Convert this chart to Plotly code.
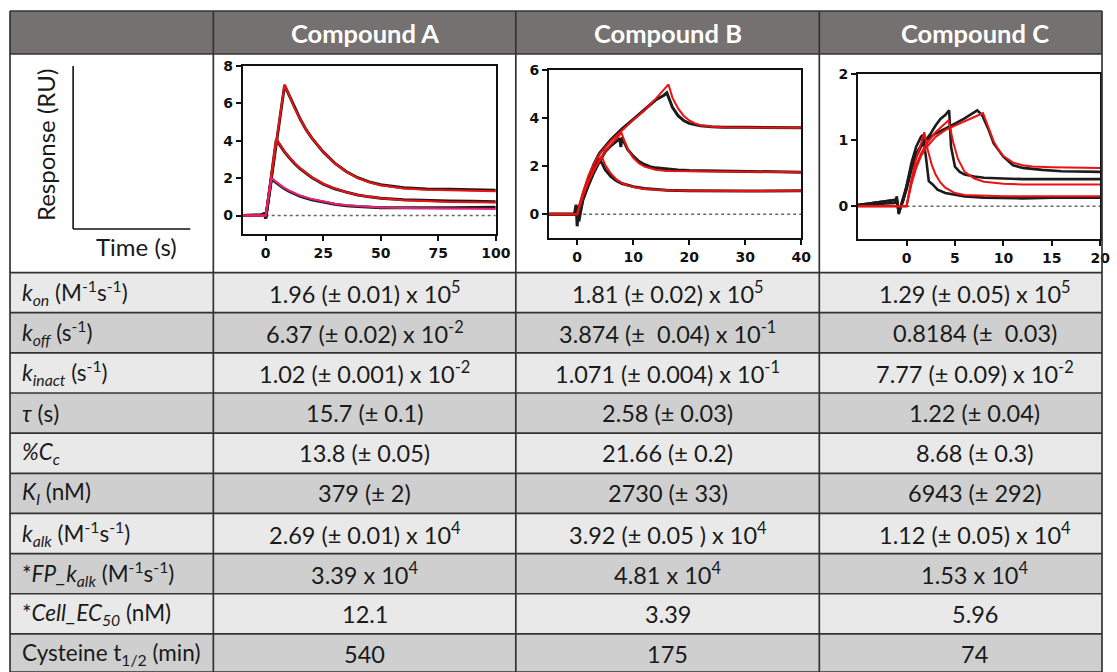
import plotly.graph_objects as go

# ---------------- data ----------------
compounds = ["Compound A", "Compound B", "Compound C"]

row_labels = [
    "<i>k</i><sub><i>on</i></sub> (M<sup>-1</sup>s<sup>-1</sup>)",
    "<i>k</i><sub><i>off</i></sub> (s<sup>-1</sup>)",
    "<i>k</i><sub><i>inact</i></sub> (s<sup>-1</sup>)",
    "<i>τ</i> (s)",
    "<i>%C</i><sub><i>c</i></sub>",
    "<i>K</i><sub><i>I</i></sub> (nM)",
    "<i>k</i><sub><i>alk</i></sub> (M<sup>-1</sup>s<sup>-1</sup>)",
    "*<i>FP_k</i><sub><i>alk</i></sub> (M<sup>-1</sup>s<sup>-1</sup>)",
    "*<i>Cell_EC</i><sub><i>50</i></sub> (nM)",
    "Cysteine t<sub>1/2</sub> (min)",
]
values_A = ["1.96 (± 0.01) x 10<sup>5</sup>", "6.37 (± 0.02) x 10<sup>-2</sup>", "1.02 (± 0.001) x 10<sup>-2</sup>",
            "15.7 (± 0.1)", "13.8 (± 0.05)", "379 (± 2)", "2.69 (± 0.01) x 10<sup>4</sup>",
            "3.39 x 10<sup>4</sup>", "12.1", "540"]
values_B = ["1.81 (± 0.02) x 10<sup>5</sup>", "3.874 (±  0.04) x 10<sup>-1</sup>", "1.071 (± 0.004) x 10<sup>-1</sup>",
            "2.58 (± 0.03)", "21.66 (± 0.2)", "2730 (± 33)", "3.92 (± 0.05 ) x 10<sup>4</sup>",
            "4.81 x 10<sup>4</sup>", "3.39", "175"]
values_C = ["1.29 (± 0.05) x 10<sup>5</sup>", "0.8184 (±  0.03)", "7.77 (± 0.09) x 10<sup>-2</sup>",
            "1.22 (± 0.04)", "8.68 (± 0.3)", "6943 (± 292)", "1.12 (± 0.05) x 10<sup>4</sup>",
            "1.53 x 10<sup>4</sup>", "5.96", "74"]

# Sensorgram curves (time s, response RU)
# Compound A
A_fit1_x = [-10, -5, 0, 8.2, 10, 12.5, 15, 17.5, 20, 25, 30, 35, 40, 45, 50, 60, 70, 80, 90, 100]
A_fit1_y = [0, 0, 0, 7.0, 6.45, 5.75, 5.15, 4.6, 4.15, 3.4, 2.8, 2.35, 2.0, 1.78, 1.62, 1.45, 1.38, 1.35, 1.33, 1.3]
A_fit2_x = [-10, -5, 0, 4.6, 6, 8, 10, 12.5, 15, 17.5, 20, 25, 30, 35, 40, 45, 50, 60, 70, 80, 90, 100]
A_fit2_y = [0, 0, 0, 4.1, 3.8, 3.45, 3.15, 2.8, 2.52, 2.27, 2.05, 1.7, 1.45, 1.25, 1.1, 1.0, 0.92, 0.82, 0.76, 0.73, 0.71, 0.7]
A_fit3_x = [-10, -5, 0, 2.5, 5, 7.5, 10, 12.5, 15, 20, 25, 30, 35, 40, 50, 60, 70, 80, 90, 100]
A_fit3_y = [0, 0, 0, 2.0, 1.74, 1.52, 1.35, 1.2, 1.07, 0.88, 0.74, 0.63, 0.55, 0.5, 0.43, 0.4, 0.38, 0.37, 0.36, 0.35]
A_dat1_x = [-10, -2, -0.5, 0, 8.2, 10, 12.5, 15, 17.5, 20, 25, 30, 35, 40, 45, 50, 60, 70, 80, 90, 100]
A_dat1_y = [0, 0.03, 0.1, -0.15, 6.95, 6.45, 5.75, 5.15, 4.6, 4.15, 3.4, 2.8, 2.35, 2.02, 1.8, 1.65, 1.48, 1.42, 1.4, 1.38, 1.35]
A_dat2_x = [-10, -2, -0.5, 0, 4.6, 6, 8, 10, 12.5, 15, 17.5, 20, 25, 30, 35, 40, 45, 50, 60, 70, 80, 90, 100]
A_dat2_y = [0, 0.03, 0.1, -0.15, 4.05, 3.78, 3.43, 3.13, 2.78, 2.5, 2.25, 2.03, 1.68, 1.43, 1.25, 1.1, 1.0, 0.93, 0.84, 0.8, 0.78, 0.76, 0.74]
A_dat3_x = [-10, -2, -0.5, 0, 2.5, 5, 7.5, 10, 12.5, 15, 20, 25, 30, 35, 40, 50, 60, 70, 80, 90, 100]
A_dat3_y = [0, 0.03, 0.1, -0.15, 1.95, 1.7, 1.48, 1.3, 1.15, 1.03, 0.84, 0.7, 0.6, 0.53, 0.48, 0.42, 0.41, 0.4, 0.42, 0.43, 0.45]

# Compound B
B_fit1_x = [-5, 0, 1, 2, 3, 4, 6, 8, 10, 12, 14, 16.3, 17, 18, 19, 20, 21, 22, 24, 26, 30, 35, 40]
B_fit1_y = [0, 0, 0.9, 1.6, 2.1, 2.5, 3.05, 3.5, 3.92, 4.32, 4.8, 5.4, 4.85, 4.4, 4.1, 3.9, 3.78, 3.7, 3.64, 3.62, 3.6, 3.6, 3.6]
B_fit2_x = [-5, 0, 1, 2, 3, 4, 5, 6, 7, 7.9, 8.5, 9, 10, 11, 12, 13, 14, 16, 18, 20, 25, 30, 40]
B_fit2_y = [0, 0, 0.75, 1.35, 1.85, 2.25, 2.6, 2.9, 3.15, 3.39, 3.0, 2.7, 2.35, 2.12, 1.98, 1.9, 1.85, 1.8, 1.79, 1.78, 1.78, 1.77, 1.75]
B_fit3_x = [-5, 0, 1, 2, 3, 4.36, 5, 6, 7, 8, 9, 10, 12, 14, 16, 20, 25, 30, 40]
B_fit3_y = [0, 0, 0.75, 1.35, 1.85, 2.42, 2.05, 1.7, 1.45, 1.3, 1.2, 1.13, 1.05, 1.02, 1.0, 0.98, 0.97, 0.97, 0.98]
B_dat1_x = [-5, -0.5, -0.2, 0, 0.2, 1, 2, 3, 4, 6, 8, 10, 12, 14, 15.5, 16, 16.5, 17, 18, 19, 20, 22, 24, 26, 30, 35, 40]
B_dat1_y = [0, 0, 0.4, -0.5, 0.2, 0.8, 1.5, 2.1, 2.55, 3.1, 3.55, 3.95, 4.35, 4.75, 4.95, 5.05, 4.75, 4.45, 4.1, 3.9, 3.78, 3.68, 3.64, 3.62, 3.62, 3.6, 3.6]
B_dat2_x = [-5, 0, 0.3, 1, 2, 3, 4, 5, 6, 7, 7.6, 7.8, 8, 8.5, 9, 10, 11, 12, 13, 14, 16, 18, 20, 25, 30, 40]
B_dat2_y = [0, 0, -0.3, 0.6, 1.2, 1.75, 2.2, 2.6, 2.85, 3.05, 3.15, 2.8, 3.2, 2.95, 2.7, 2.42, 2.2, 2.07, 1.98, 1.93, 1.88, 1.84, 1.82, 1.8, 1.78, 1.75]
B_dat3_x = [-5, 0, 0.5, 1, 2, 3, 3.8, 4.5, 5, 6, 7, 8, 10, 12, 14, 16, 20, 25, 30, 40]
B_dat3_y = [0, 0, 0.1, 0.6, 1.3, 1.9, 2.3, 2.1, 1.85, 1.58, 1.4, 1.28, 1.15, 1.07, 1.03, 1.0, 0.98, 0.97, 0.97, 0.98]

# Compound C
C_fit1_x = [-5, 0, 0.5, 1, 1.5, 1.83, 2.2, 2.6, 3, 3.5, 4, 5, 6, 8, 10, 15, 20]
C_fit1_y = [0, 0, 0.4, 0.72, 0.95, 1.12, 0.85, 0.63, 0.48, 0.36, 0.28, 0.2, 0.17, 0.155, 0.15, 0.15, 0.15]
C_fit2_x = [-5, 0, 0.5, 1, 1.5, 2, 3, 4.34, 4.8, 5.3, 6, 7, 8, 9, 10, 12, 15, 20]
C_fit2_y = [0, 0, 0.35, 0.62, 0.8, 0.93, 1.12, 1.3, 0.98, 0.72, 0.52, 0.42, 0.37, 0.35, 0.34, 0.33, 0.33, 0.33]
C_fit3_x = [-5, 0, 0.5, 1, 1.5, 2, 3, 4, 5, 6, 7, 7.9, 8.4, 9, 9.5, 10, 11, 12, 13, 15, 20]
C_fit3_y = [0, 0, 0.33, 0.58, 0.76, 0.88, 1.05, 1.15, 1.22, 1.29, 1.35, 1.41, 1.2, 0.98, 0.85, 0.76, 0.66, 0.62, 0.6, 0.59, 0.58]
C_dat1_x = [-5, -3, -1.2, -1, -0.8, -0.5, 0, 0.5, 1, 1.5, 1.7, 2.0, 2.3, 2.7, 3.2, 4, 5, 6, 8, 10, 12, 15, 20]
C_dat1_y = [0.02, 0.03, 0.05, 0.15, -0.12, 0.05, 0.3, 0.65, 0.9, 1.05, 1.08, 0.75, 0.38, 0.33, 0.25, 0.2, 0.17, 0.15, 0.13, 0.12, 0.12, 0.13, 0.13]
C_dat2_x = [-5, -1, -0.8, -0.3, 0, 0.5, 1, 1.5, 2, 2.5, 3, 3.5, 4, 4.4, 4.6, 5, 5.5, 6, 7, 8, 10, 12, 15, 20]
C_dat2_y = [0.02, 0.1, -0.1, 0.1, 0.3, 0.6, 0.8, 0.92, 1.0, 1.1, 1.22, 1.32, 1.38, 1.45, 0.9, 0.6, 0.52, 0.48, 0.45, 0.43, 0.42, 0.41, 0.41, 0.41]
C_dat3_x = [-5, -1, -0.8, -0.3, 0, 0.5, 1, 1.5, 2, 3, 4, 5, 6, 7, 7.3, 7.8, 8.5, 9, 10, 11, 12, 14, 16, 20]
C_dat3_y = [0.02, 0.1, -0.1, 0.1, 0.25, 0.55, 0.75, 0.9, 1.0, 1.1, 1.17, 1.25, 1.33, 1.42, 1.45, 1.38, 1.15, 0.95, 0.75, 0.62, 0.58, 0.55, 0.53, 0.52]

A_xticks = [0, 25, 50, 75, 100]
A_yticks = [0, 2, 4, 6, 8]
B_xticks = [0, 10, 20, 30, 40]
B_yticks = [0, 2, 4, 6]
C_xticks = [0, 5, 10, 15, 20]
C_yticks = [0, 1, 2]
A_xrange, A_yrange = [-10, 100], [-1, 8]
B_xrange, B_yrange = [-5, 40], [-1, 6]
C_xrange, C_yrange = [-5, 20], [-0.5, 2]

# ---------------- layout helpers ----------------
W, H = 1117, 672
# the photographed page shows the figure slightly scaled and shifted; positions below are
# given in picture pixels and mapped back to figure pixels
SX, SY, OY = 0.985, 0.988, 8.0
def px(x):
    return min(max(x / SX, 0), W) / W
def py(y):
    return 1 - min(max((y - OY) / SY, 0), H) / H

TXT_FONT = "Lato"
HEADER_BG = "#767171"
LIGHT = "#e9e9e9"
DARK = "#cfcfcf"
LINE = "#333333"
TXT_COL = "#1a1a1a"

col_edges = [10, 213, 515, 818, 1128]
header_top, header_bot = 11, 54
plot_bot = 272.5
row_h = 40.15
row_edges = [plot_bot + i * row_h for i in range(len(row_labels) + 1)]

fig = go.Figure()
shapes = []
annotations = []

shapes.append(dict(type="rect", xref="paper", yref="paper", layer="below",
                   x0=px(col_edges[0]), x1=px(col_edges[-1]), y0=py(header_bot), y1=py(header_top),
                   fillcolor=HEADER_BG, line_width=0))
for i in range(len(row_labels)):
    shapes.append(dict(type="rect", xref="paper", yref="paper", layer="below",
                       x0=px(col_edges[0]), x1=px(col_edges[-1]),
                       y0=py(row_edges[i + 1]), y1=py(row_edges[i]),
                       fillcolor=LIGHT if i % 2 == 0 else DARK, line_width=0))
for yv in [header_top, header_bot, plot_bot] + row_edges[1:]:
    shapes.append(dict(type="line", xref="paper", yref="paper", layer="above",
                       x0=px(col_edges[0]), x1=px(col_edges[-1]), y0=py(yv), y1=py(yv),
                       line=dict(color=LINE, width=1.7)))
for xv in col_edges:
    shapes.append(dict(type="line", xref="paper", yref="paper", layer="above",
                       x0=px(xv), x1=px(xv), y0=py(row_edges[-1]), y1=py(header_top),
                       line=dict(color=LINE, width=1.7)))

# schematic axes in the first cell
shapes.append(dict(type="line", xref="paper", yref="paper",
                   x0=px(73), x1=px(73), y0=py(229), y1=py(66), line=dict(color="#111111", width=1.6)))
shapes.append(dict(type="line", xref="paper", yref="paper",
                   x0=px(73), x1=px(190), y0=py(229), y1=py(229), line=dict(color="#111111", width=1.6)))
annotations.append(dict(xref="paper", yref="paper", x=px(45), y=py(145), text="Response (RU)",
                        textangle=-90, showarrow=False, xanchor="center", yanchor="middle",
                        font=dict(family=TXT_FONT, size=24, color=TXT_COL)))
annotations.append(dict(xref="paper", yref="paper", x=px(136), y=py(246), text="Time (s)",
                        showarrow=False, xanchor="center", yanchor="middle",
                        font=dict(family=TXT_FONT, size=24, color=TXT_COL)))

for j, name in enumerate(compounds):
    cx = (col_edges[j + 1] + col_edges[j + 2]) / 2
    if j == 2:
        cx = 973
    annotations.append(dict(xref="paper", yref="paper", x=px(cx), y=py((header_top + header_bot) / 2),
                            text="<b>" + name + "</b>", showarrow=False, xanchor="center", yanchor="middle",
                            font=dict(family=TXT_FONT, size=25.5, color="white")))

for i, lab in enumerate(row_labels):
    yc = (row_edges[i] + row_edges[i + 1]) / 2
    annotations.append(dict(xref="paper", yref="paper", x=px(20), y=py(yc), text=lab,
                            showarrow=False, xanchor="left", yanchor="middle",
                            font=dict(family=TXT_FONT, size=22.5, color=TXT_COL)))
    for j, vals in enumerate([values_A, values_B, values_C]):
        cx = (col_edges[j + 1] + col_edges[j + 2]) / 2
        annotations.append(dict(xref="paper", yref="paper", x=px(cx), y=py(yc), text=vals[i],
                                showarrow=False, xanchor="center", yanchor="middle",
                                font=dict(family=TXT_FONT, size=23.5, color=TXT_COL)))

panels = [
    dict(xa="x", ya="y", dom_x=(242.3, 495), dom_y=(65.7, 234.3), xr=A_xrange, yr=A_yrange,
         xt=A_xticks, yt=A_yticks,
         data=[(A_dat1_x, A_dat1_y), (A_dat2_x, A_dat2_y), (A_dat3_x, A_dat3_y)],
         fits=[(A_fit1_x, A_fit1_y, "#ee1111"), (A_fit2_x, A_fit2_y, "#ee1111"), (A_fit3_x, A_fit3_y, "#e8207a")]),
    dict(xa="x2", ya="y2", dom_x=(548.3, 800), dom_y=(70, 238.3), xr=B_xrange, yr=B_yrange,
         xt=B_xticks, yt=B_yticks,
         data=[(B_dat1_x, B_dat1_y), (B_dat2_x, B_dat2_y), (B_dat3_x, B_dat3_y)],
         fits=[(B_fit1_x, B_fit1_y, "#ee1111"), (B_fit2_x, B_fit2_y, "#ee1111"), (B_fit3_x, B_fit3_y, "#ee1111")]),
    dict(xa="x3", ya="y3", dom_x=(856.7, 1098.5), dom_y=(74, 239.3), xr=C_xrange, yr=C_yrange,
         xt=C_xticks, yt=C_yticks,
         data=[(C_dat1_x, C_dat1_y), (C_dat2_x, C_dat2_y), (C_dat3_x, C_dat3_y)],
         fits=[(C_fit1_x, C_fit1_y, "#ee1111"), (C_fit2_x, C_fit2_y, "#ee1111"), (C_fit3_x, C_fit3_y, "#ee1111")]),
]

tickfont = dict(family="DejaVu Sans", size=14, color="#111111", weight="bold")
for k, p in enumerate(panels):
    fig.add_trace(go.Scatter(x=[0, p["xr"][1]], y=[0, 0], mode="lines", xaxis=p["xa"], yaxis=p["ya"],
                             line=dict(color="#666666", width=1.5, dash="dot"), showlegend=False, hoverinfo="skip"))
    dw = 3.0 if k < 2 else 2.6
    for (xs, ys) in p["data"]:
        fig.add_trace(go.Scatter(x=xs, y=ys, mode="lines", xaxis=p["xa"], yaxis=p["ya"],
                                 line=dict(color="#1c1c1c", width=dw), showlegend=False))
    for (xs, ys, col) in p["fits"]:
        fig.add_trace(go.Scatter(x=xs, y=ys, mode="lines", xaxis=p["xa"], yaxis=p["ya"],
                                 line=dict(color=col, width=2), showlegend=False))
    suffix = "" if k == 0 else str(k + 1)
    axis_common = dict(showline=True, linecolor="#111111", linewidth=2, mirror=True,
                       ticks="outside", ticklen=5, tickwidth=2, tickcolor="#111111",
                       showgrid=False, zeroline=False, tickfont=tickfont, fixedrange=True)
    fig.update_layout(**{
        "xaxis" + suffix: dict(domain=[px(p["dom_x"][0]), px(p["dom_x"][1])], range=p["xr"],
                               tickvals=p["xt"], anchor="y" + suffix, **axis_common),
        "yaxis" + suffix: dict(domain=[py(p["dom_y"][1]), py(p["dom_y"][0])], range=p["yr"],
                               tickvals=p["yt"], anchor="x" + suffix, **axis_common),
    })

fig.update_layout(width=W, height=H, margin=dict(l=0, r=0, t=0, b=0),
                  paper_bgcolor="white", plot_bgcolor="white",
                  shapes=shapes, annotations=annotations, showlegend=False)

fig.write_html("out.html")
